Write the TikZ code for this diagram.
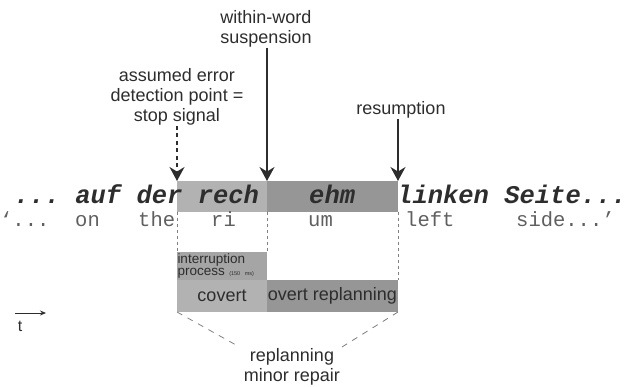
\documentclass[tikz,border=0pt]{standalone}
\usepackage{fontspec}
\setmainfont{Liberation Sans}
\setmonofont{Liberation Mono}
\usetikzlibrary{arrows.meta}
\definecolor{lightshade}{RGB}{178,178,178}
\definecolor{darkshade}{RGB}{150,150,150}
\definecolor{procshade}{RGB}{165,165,165}
\definecolor{inkgray}{RGB}{45,45,45}
\definecolor{glossgray}{RGB}{95,95,95}

\begin{document}
\begin{tikzpicture}[x=1pt, y=-1pt,
    shadebox/.style={rectangle, inner sep=0pt, outer sep=0pt},
    boldword/.style={anchor=base west, inner sep=0pt, text=inkgray,
        font=\fontsize{25.5}{30}\selectfont\ttfamily\bfseries\itshape},
    transword/.style={anchor=base west, inner sep=0pt, text=glossgray,
        font=\fontsize{20.5}{24}\selectfont\ttfamily},
    notelabel/.style={align=center, inner sep=1pt, text=inkgray,
        font=\fontsize{18}{20}\selectfont},
    ptr/.style={-{Stealth[length=14pt, width=15pt]}, line width=1.4pt, draw=inkgray},
    guide/.style={draw=gray, line width=0.6pt, dash pattern=on 3pt off 3pt},
    brace/.style={draw=gray, line width=0.8pt, dash pattern=on 6pt off 6pt}]
    \useasboundingbox (0,0) rectangle (627,387);

    % shaded stretches of the utterance
    \node[shadebox, fill=lightshade, minimum width=90pt, minimum height=31pt] (rechbox) at (222,196.5) {};
    \node[shadebox, fill=darkshade, minimum width=131pt, minimum height=31pt] (ehmbox) at (332.5,196.5) {};

    % utterance and gloss
    \node[boldword] (srcA) at (14,204) {... auf der rech};
    \node[boldword] (srcB) at (309,204) {ehm};
    \node[boldword] (srcC) at (397,204) {linken Seite...};
    \node[transword] (glA) at (0,227) {‘...};
    \node[transword] (glB) at (75,227) {on};
    \node[transword] (glC) at (138,227) {the};
    \node[transword] (glD) at (211,227) {ri};
    \node[transword] (glE) at (308,227) {um};
    \node[transword] (glF) at (405,227) {left};
    \node[transword] (glG) at (516,227) {side...’};

    % processing stages
    \node[shadebox, fill=procshade, minimum width=90pt, minimum height=28pt,
          text width=89pt, align=left, text=inkgray,
          font=\fontsize{13.5}{12.5}\selectfont] (interrupt) at (222,266)
          {interruption\\process {\fontsize{5.5}{6}\selectfont(150 ms)}};
    \node[shadebox, fill=lightshade, minimum width=90pt, minimum height=32pt,
          text=inkgray, font=\fontsize{18}{20}\selectfont] (covert) at (222,296) {covert};
    \node[shadebox, fill=darkshade, minimum width=131pt, minimum height=32pt,
          text=inkgray, font=\fontsize{18}{20}\selectfont] (overt) at (332.5,296) {overt replanning};

    % annotations
    \node[notelabel, anchor=south] (detect) at (177,126) {assumed error\\detection point =\\stop signal};
    \node[notelabel, anchor=south] (susp) at (266,48) {within-word\\suspension};
    \node[notelabel, anchor=south] (resum) at (401,119) {resumption};
    \node[notelabel, anchor=north] (repair) at (292,347) {replanning\\minor repair};

    \draw[ptr, dash pattern=on 4pt off 3.5pt] (detect.south -| rechbox.north west) -- (rechbox.north west);
    \draw[ptr] (susp.south -| rechbox.north east) -- (rechbox.north east);
    \draw[ptr] (resum.south -| ehmbox.north east) -- (ehmbox.north east);

    % boundaries
    \draw[guide] (rechbox.south west) -- (interrupt.north west);
    \draw[guide] (rechbox.south east) -- (interrupt.north east);
    \draw[guide] (ehmbox.south east) -- (overt.north east);

    % grouping of the replanning span
    \coordinate (leftend) at (236,345);
    \coordinate (rightend) at (342,347);
    \draw[brace] (covert.south west) -- (leftend);
    \draw[brace] (overt.south east) -- (rightend);

    % time axis
    \coordinate (tstart) at (15,313);
    \coordinate (tend) at (46,313);
    \draw[-{Stealth[length=6pt, width=5pt]}, line width=0.8pt, draw=inkgray] (tstart) -- (tend);
    \node[text=inkgray, font=\fontsize{16}{18}\selectfont, anchor=base] (tlab) at (20,332) {t};
\end{tikzpicture}
\end{document}
